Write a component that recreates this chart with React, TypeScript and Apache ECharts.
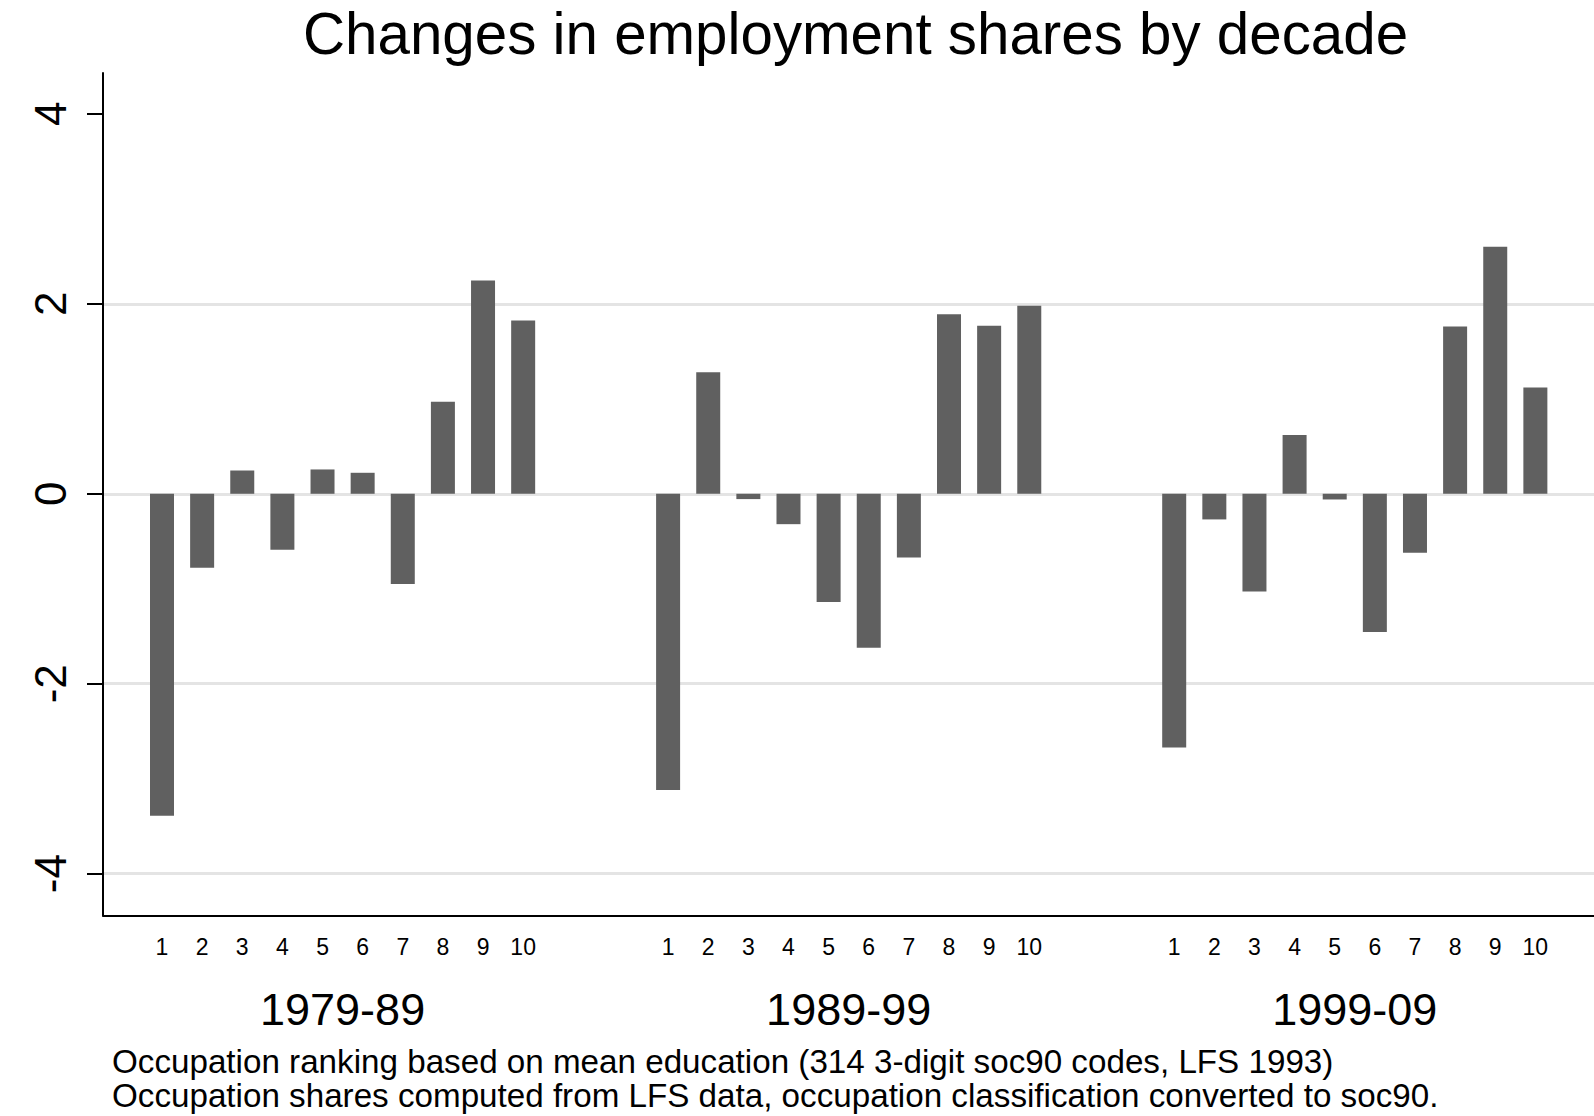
import React, { useEffect, useRef } from "react";
import * as echarts from "echarts";

const groups = ["1979-89", "1989-99", "1999-09"];
const ranks = ["1", "2", "3", "4", "5", "6", "7", "8", "9", "10"];
const values7989 = [-3.39, -0.78, 0.245, -0.59, 0.256, 0.221, -0.95, 0.97, 2.245, 1.825];
const values8999 = [-3.12, 1.28, -0.056, -0.32, -1.14, -1.62, -0.67, 1.89, 1.77, 1.98];
const values9909 = [-2.67, -0.27, -1.03, 0.62, -0.06, -1.455, -0.62, 1.76, 2.6, 1.12];
const groupValues = [values7989, values8999, values9909];
const yTicks = [-4, -2, 0, 2, 4];
const gridLineValues = [-4, -2, 0, 2];
const titleText = "Changes in employment shares by decade";
const notes = [
  "Occupation ranking based on mean education (314 3-digit soc90 codes, LFS 1993)",
  "Occupation shares computed from LFS data, occupation classification converted to soc90.",
];

export default function App() {
  const ref = useRef<HTMLDivElement>(null);
  useEffect(() => {
    document.body.style.margin = "0";
    const chart = echarts.init(ref.current!, null, { renderer: "svg" });
    const H = 1116;
    const plotTop = 73;
    const plotBottom = 915.5;
    const plotLeft = 103;
    const yMin = -4.44;
    const yMax = 4.43;
    const slot = 40.13;
    const groupStep = 506.1;
    const firstCenter = 162;
    const FONT = "'Liberation Sans', Arial, Helvetica, sans-serif";

    const grids: any[] = [{ left: plotLeft, right: 0, top: plotTop, bottom: H - plotBottom }];
    const xAxes: any[] = [
      {
        type: "value",
        gridIndex: 0,
        min: 0,
        max: 1,
        axisLine: { show: true, onZero: false, lineStyle: { color: "#000", width: 2 } },
        axisTick: { show: false },
        axisLabel: { show: false },
        splitLine: { show: false },
      },
    ];
    const yAxes: any[] = [
      {
        type: "value",
        gridIndex: 0,
        min: yMin,
        max: yMax,
        axisLine: { show: true, onZero: false, lineStyle: { color: "#000", width: 2 } },
        axisTick: { show: true, length: 16, customValues: yTicks, lineStyle: { color: "#000", width: 2 } },
        axisLabel: {
          customValues: yTicks,
          rotate: 90,
          fontSize: 44,
          margin: 31,
          color: "#000",
          fontFamily: FONT,
        },
        splitLine: { show: false },
      },
      {
        type: "value",
        gridIndex: 0,
        position: "left",
        min: yMin,
        max: yMax,
        axisLine: { show: false, onZero: false },
        axisTick: { show: false, customValues: gridLineValues },
        axisLabel: { show: false, customValues: gridLineValues },
        splitLine: { show: true, lineStyle: { color: "#e4e4e4", width: 3 } },
      },
    ];
    const series: any[] = [];
    groups.forEach((g, i) => {
      grids.push({
        left: firstCenter - slot / 2 + i * groupStep,
        width: slot * 10,
        top: plotTop,
        bottom: H - plotBottom,
      });
      xAxes.push({
        type: "category",
        gridIndex: i + 1,
        data: ranks,
        name: g,
        nameLocation: "middle",
        nameGap: 71,
        nameTextStyle: { fontSize: 45, color: "#000", fontFamily: FONT },
        axisLine: { show: false, onZero: false },
        axisTick: { show: false },
        axisLabel: { fontSize: 23, margin: 20, color: "#000", fontFamily: FONT, interval: 0 },
        splitLine: { show: false },
      });
      yAxes.push({ type: "value", gridIndex: i + 1, min: yMin, max: yMax, show: false });
      series.push({
        type: "bar",
        name: g,
        xAxisIndex: i + 1,
        yAxisIndex: i + 2,
        data: groupValues[i],
        barWidth: 24,
        itemStyle: { color: "#606060" },
      });
    });

    chart.setOption({
      animation: false,
      backgroundColor: "#fff",
      title: [
        {
          text: titleText,
          left: 303,
          top: 4,
          padding: 0,
          textStyle: { fontSize: 58.3, fontWeight: "normal", color: "#000", fontFamily: FONT },
        },
        {
          text: notes.join("\n"),
          left: 112,
          top: 1044,
          padding: 0,
          textStyle: { fontSize: 33.2, lineHeight: 34, fontWeight: "normal", color: "#000", fontFamily: FONT },
        },
      ],
      grid: grids,
      xAxis: xAxes,
      yAxis: yAxes,
      series,
    });
    return () => chart.dispose();
  }, []);
  return <div ref={ref} style={{ width: 1594, height: 1116 }} />;
}
